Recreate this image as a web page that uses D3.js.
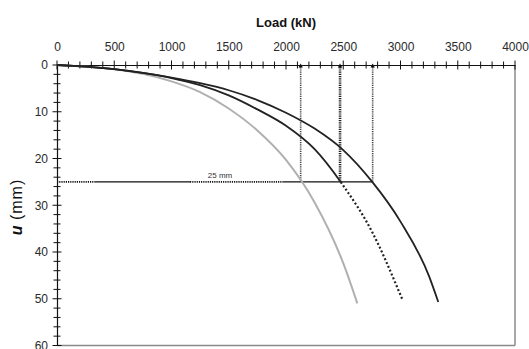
<!DOCTYPE html>
<html><head><meta charset="utf-8">
<script src="https://cdn.jsdelivr.net/npm/d3@7"></script>
<style>body{margin:0;background:#fff}svg{display:block}text{font-family:"Liberation Sans",Arial,sans-serif}</style>
</head><body>
<svg id="c" width="529" height="349"></svg>
<script>
// ---- data ----
const xTickLabels = [0,500,1000,1500,2000,2500,3000,3500,4000];
const yTickLabels = [0,10,20,30,40,50,60];
const grayCurve = [[0,0],[250,0.35],[500,0.9],[750,1.9],[1000,3.5],[1250,5.8],[1500,9.3],[1750,14.0],[2000,20.3],[2250,29.4],[2500,42.4],[2623,51]];
const middleCurve = [[0,0],[250,0.35],[500,0.9],[750,1.7],[1000,2.8],[1250,4.3],[1500,6.5],[1750,9.5],[2000,13.0],[2250,18.0],[2500,25.8],[2750,35.6],[3000,49.2],[3019,50.3]];
const outerCurve = [[0,0],[250,0.35],[500,0.9],[750,1.7],[1000,2.7],[1250,3.9],[1500,5.4],[1750,7.5],[2000,10.2],[2250,13.6],[2500,18.2],[2750,24.9],[3000,33.5],[3250,45.2],[3330,50.7]];
const capacityLoads = [2128,2472,2757];
const criterionU = 25;
const criterionSegments = [[0,332,"dot"],[332,1162,"solid"],[1162,1974,"dot"],[1974,2757,"solid"]];
const criterionLabel = {load:1424, text:"25 mm"};

const W = 529, H = 349;
const svg = d3.select("#c");
const x = d3.scaleLinear().domain([0,4000]).range([57,515]);
const y = d3.scaleLinear().domain([0,60]).range([65,345.5]);

// frame (right & bottom, gray)
svg.append("line").attr("x1",515).attr("x2",515).attr("y1",y(0)).attr("y2",y(60)).attr("stroke","#8a8a8a").attr("stroke-width",1.5);
svg.append("line").attr("x1",x(0)).attr("x2",515).attr("y1",y(60)).attr("y2",y(60)).attr("stroke","#8a8a8a").attr("stroke-width",1.5);

// top axis
const gx = svg.append("g").attr("transform",`translate(0,${y(0)})`)
  .call(d3.axisTop(x).tickValues(xTickLabels).tickSize(0).tickPadding(14).tickFormat(d3.format("d")));
gx.select(".domain").attr("stroke","#111").attr("stroke-width",1.2);
gx.selectAll("text").attr("font-size",12).attr("fill","#2a2a2a");
const xMinor = d3.range(0,4001,100);
svg.append("g").selectAll("line").data(xMinor).join("line")
  .attr("x1",d=>x(d)).attr("x2",d=>x(d))
  .attr("y1",d=>y(0)-(d%500===0?4.5:3.5)).attr("y2",d=>y(0)+(d%500===0?4.5:3.5))
  .attr("stroke","#111").attr("stroke-width",1);

// left axis
const gy = svg.append("g").attr("transform",`translate(${x(0)},0)`)
  .call(d3.axisLeft(y).tickValues(yTickLabels).tickSize(0).tickPadding(9).tickFormat(d3.format("d")));
gy.select(".domain").attr("stroke","#111").attr("stroke-width",1.2);
gy.selectAll("text").attr("font-size",12).attr("fill","#2a2a2a");
const yMinor = d3.range(0,61,2);
svg.append("g").selectAll("line").data(yMinor).join("line")
  .attr("y1",d=>y(d)).attr("y2",d=>y(d))
  .attr("x1",d=>x(0)-(d%10===0?4.5:3.5)).attr("x2",d=>x(0)+(d%10===0?4.5:3.5))
  .attr("stroke","#111").attr("stroke-width",1);

// titles
svg.append("text").attr("x",286).attr("y",27).attr("text-anchor","middle")
  .attr("font-size",13).attr("font-weight","bold").attr("fill","#111").text("Load (kN)");
const yl = svg.append("text").attr("transform","translate(22,207) rotate(-90)").attr("text-anchor","middle")
  .attr("font-size",16).attr("fill","#111");
yl.append("tspan").attr("font-style","italic").attr("font-weight","bold").text("u");
yl.append("tspan").attr("letter-spacing",1).text(" (mm)");

// vertical dotted capacity lines
svg.append("g").selectAll("line").data(capacityLoads).join("line")
  .attr("x1",d=>x(d)).attr("x2",d=>x(d)).attr("y1",y(0)).attr("y2",y(criterionU))
  .attr("stroke",(d,i)=>i===1?"#222":"#444").attr("stroke-width",(d,i)=>i===1?2.6:1.6)
  .attr("stroke-dasharray","1.2,1");
svg.append("g").selectAll("path").data(capacityLoads).join("path")
  .attr("d",d=>`M${x(d)},${y(0)-1.5} l-2.2,4 h4.4 z`).attr("fill","#111");

// criterion line
svg.append("g").selectAll("line").data(criterionSegments).join("line")
  .attr("x1",d=>x(d[0])).attr("x2",d=>x(d[1])).attr("y1",y(criterionU)).attr("y2",y(criterionU))
  .attr("stroke","#111").attr("stroke-width",d=>d[2]==="dot"?1.8:1.4)
  .attr("stroke-dasharray",d=>d[2]==="dot"?"1.2,1":null);
svg.append("text").attr("x",x(criterionLabel.load)).attr("y",y(criterionU)-4).attr("text-anchor","middle")
  .attr("font-size",8).attr("fill","#333").text(criterionLabel.text);

// clip regions above / below criterion
const defs = svg.append("defs");
defs.append("clipPath").attr("id","above").append("rect").attr("x",0).attr("y",0).attr("width",W).attr("height",y(criterionU));
defs.append("clipPath").attr("id","below").append("rect").attr("x",0).attr("y",y(criterionU)).attr("width",W).attr("height",H-y(criterionU));

// curves
const line = d3.line().x(d=>x(d[0])).y(d=>y(d[1])).curve(d3.curveMonotoneX);
svg.append("path").datum(grayCurve).attr("d",line).attr("fill","none").attr("stroke","#b0b0b0").attr("stroke-width",2);
svg.append("path").datum(middleCurve).attr("d",line).attr("clip-path","url(#above)").attr("fill","none").attr("stroke","#222").attr("stroke-width",1.8);
svg.append("path").datum(middleCurve).attr("d",line).attr("clip-path","url(#below)").attr("fill","none").attr("stroke","#222").attr("stroke-width",2.2).attr("stroke-dasharray","2,2.2");
svg.append("path").datum(outerCurve).attr("d",line).attr("fill","none").attr("stroke","#222").attr("stroke-width",1.8);
</script>
</body></html>
